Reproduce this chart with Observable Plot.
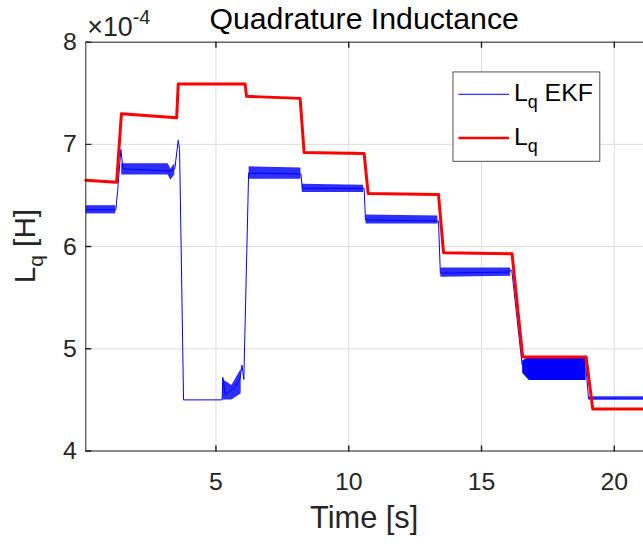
<!DOCTYPE html>
<html><head><meta charset="utf-8">
<script src="https://cdn.jsdelivr.net/npm/d3@7"></script>
<script src="https://cdn.jsdelivr.net/npm/@observablehq/plot@0.6"></script>
<style>
html,body{margin:0;padding:0;overflow:hidden;background:#fff;}
svg{display:block;}
</style></head><body><div id="chart"></div>
<script>
// values in units of 1e-4 H
const xTicks = [5, 10, 15, 20];
const yTicks = [4, 5, 6, 7, 8];
const xDomain = [0.1, 21.1];
const yDomain = [4, 8];

// reference Lq (red)
const refTime  = [0.1, 1.26, 1.44, 3.52, 3.58, 6.10, 6.15, 8.17, 8.32, 10.58, 10.73, 13.38, 13.57, 16.15, 16.55, 18.94, 19.19, 21.1];
const refValue = [6.65, 6.63, 7.30, 7.26, 7.59, 7.59, 7.47, 7.45, 6.92, 6.91, 6.52, 6.51, 5.94, 5.93, 4.92, 4.92, 4.41, 4.41];

// EKF estimate (blue) centre trace
const ekfTime  = [0.1, 1.23, 1.30, 1.42, 1.50, 3.30, 3.45, 3.58, 3.63, 3.78, 5.23, 5.26, 5.35, 5.50, 5.70, 5.90, 5.98, 6.05, 6.23, 8.20, 8.25, 10.58, 10.63, 13.38, 13.45, 16.00, 16.14, 16.53, 18.94, 19.03, 21.1];
const ekfValue = [6.36, 6.36, 6.55, 6.95, 6.76, 6.74, 6.76, 7.04, 6.95, 4.50, 4.50, 4.72, 4.55, 4.58, 4.62, 4.70, 4.84, 4.70, 6.72, 6.71, 6.57, 6.57, 6.26, 6.25, 5.74, 5.75, 5.77, 4.84, 4.80, 4.51, 4.51];

// EKF noise envelope per segment
const bandSeg  = ["A","A","B","B","B","B","C","C","C","D","D","E","E","F","F","G","G","H","H","H","I","I"];
const bandTime = [0.1, 1.23, 1.45, 3.20, 3.30, 3.45, 5.26, 5.60, 5.95, 6.25, 8.20, 8.25, 10.56, 10.65, 13.36, 13.47, 16.10, 16.55, 16.80, 18.94, 19.06, 21.1];
const bandLow  = [6.32, 6.32, 6.70, 6.70, 6.65, 6.70, 4.50, 4.50, 4.56, 6.66, 6.66, 6.53, 6.53, 6.22, 6.22, 5.70, 5.71, 4.76, 4.69, 4.69, 4.50, 4.50];
const bandHigh = [6.40, 6.40, 6.81, 6.81, 6.76, 6.81, 4.70, 4.64, 4.80, 6.78, 6.77, 6.61, 6.60, 6.31, 6.30, 5.79, 5.79, 4.88, 4.92, 4.92, 4.53, 4.53];

const ref = refTime.map((t, i) => ({t, v: refValue[i]}));
const ekf = ekfTime.map((t, i) => ({t, v: ekfValue[i]}));
const band = bandTime.map((t, i) => ({t, lo: bandLow[i], hi: bandHigh[i], seg: bandSeg[i]}));

const axisColor = "#262626";
const tickShape = {draw(ctx, l) { ctx.moveTo(0, 0); ctx.lineTo(0, -l); }};
const font = "'Liberation Sans', Arial, Helvetica, sans-serif";

const chart = Plot.plot({
  width: 648, height: 544,
  marginLeft: 86, marginRight: 0, marginTop: 42, marginBottom: 90,
  style: {fontFamily: font, fontSize: "25px", color: axisColor, background: "white", overflow: "visible"},
  x: {domain: xDomain, label: null},
  y: {domain: yDomain, label: null},
  marks: [
    Plot.gridX(xTicks, {stroke: "#dedede", strokeOpacity: 1}),
    Plot.gridY(yTicks, {stroke: "#dedede", strokeOpacity: 1}),
    Plot.areaY(band, {x: "t", y1: "lo", y2: "hi", z: "seg", fill: "#0000ff",
      fillOpacity: d => d.seg === "H" ? 1 : 0.82, curve: "linear"}),
    Plot.line(ekf, {x: "t", y: "v", stroke: "#0000ff", strokeWidth: 1}),
    Plot.line(ref, {x: "t", y: "v", stroke: "#ff0000", strokeWidth: 3}),
    Plot.frame({stroke: axisColor, strokeWidth: 1}),
    Plot.vector(xTicks, {x: d => d, y: yDomain[0], length: 5, rotate: 0, anchor: "start", shape: tickShape, stroke: axisColor}),
    Plot.vector(xTicks, {x: d => d, y: yDomain[1], length: 5, rotate: 180, anchor: "start", shape: tickShape, stroke: axisColor}),
    Plot.vector(yTicks, {x: xDomain[0], y: d => d, length: 5, rotate: 90, anchor: "start", shape: tickShape, stroke: axisColor}),
    Plot.axisX(xTicks, {anchor: "bottom", tickSize: 0, tickPadding: 22, fontSize: 25, fill: axisColor, label: null, tickFormat: d => String(d)}),
    Plot.axisY(yTicks, {anchor: "left", tickSize: 0, tickPadding: 9, fontSize: 25, fill: axisColor, label: null, tickFormat: d => String(d)})
  ]
});
document.getElementById("chart").appendChild(chart);

const svg = d3.select(chart);
// title
svg.append("text").attr("x", 367).attr("y", 29).attr("text-anchor", "middle")
  .attr("font-family", font).attr("font-size", 30.5).attr("fill", "#000")
  .text("Quadrature Inductance");
// exponent
const ex = svg.append("text").attr("x", 88).attr("y", 36).attr("text-anchor", "start")
  .attr("font-family", font).attr("font-size", 27).attr("fill", axisColor);
ex.append("tspan").text("×10");
ex.append("tspan").attr("font-size", 20).attr("dy", -12).text("-4");
// x label
svg.append("text").attr("x", 367).attr("y", 532).attr("text-anchor", "middle")
  .attr("font-family", font).attr("font-size", 31).attr("fill", axisColor)
  .text("Time [s]");
// y label
const yl = svg.append("text").attr("transform", "translate(35,248) rotate(-90)")
  .attr("text-anchor", "middle").attr("font-family", font).attr("font-size", 30).attr("fill", axisColor);
yl.append("tspan").text("L");
yl.append("tspan").attr("font-size", 21).attr("dy", 8).text("q");
yl.append("tspan").attr("dy", -8).text(" [H]");

// legend
const lg = svg.append("g");
lg.append("rect").attr("x", 456.5).attr("y", 72.5).attr("width", 148).attr("height", 90)
  .attr("fill", "white").attr("stroke", axisColor).attr("stroke-width", 0.8);
lg.append("line").attr("x1", 462).attr("x2", 513).attr("y1", 95).attr("y2", 95)
  .attr("stroke", "#0000ff").attr("stroke-width", 1);
lg.append("line").attr("x1", 462).attr("x2", 513).attr("y1", 139).attr("y2", 139)
  .attr("stroke", "#ff0000").attr("stroke-width", 2.5);
const t1 = lg.append("text").attr("x", 518).attr("y", 102).attr("text-anchor", "start")
  .attr("font-family", font).attr("font-size", 25).attr("fill", "#000");
t1.append("tspan").text("L");
t1.append("tspan").attr("font-size", 18).attr("dy", 7).text("q");
t1.append("tspan").attr("dy", -7).text(" EKF");
const t2 = lg.append("text").attr("x", 518).attr("y", 146).attr("text-anchor", "start")
  .attr("font-family", font).attr("font-size", 25).attr("fill", "#000");
t2.append("tspan").text("L");
t2.append("tspan").attr("font-size", 18).attr("dy", 7).text("q");
</script>
</body></html>
